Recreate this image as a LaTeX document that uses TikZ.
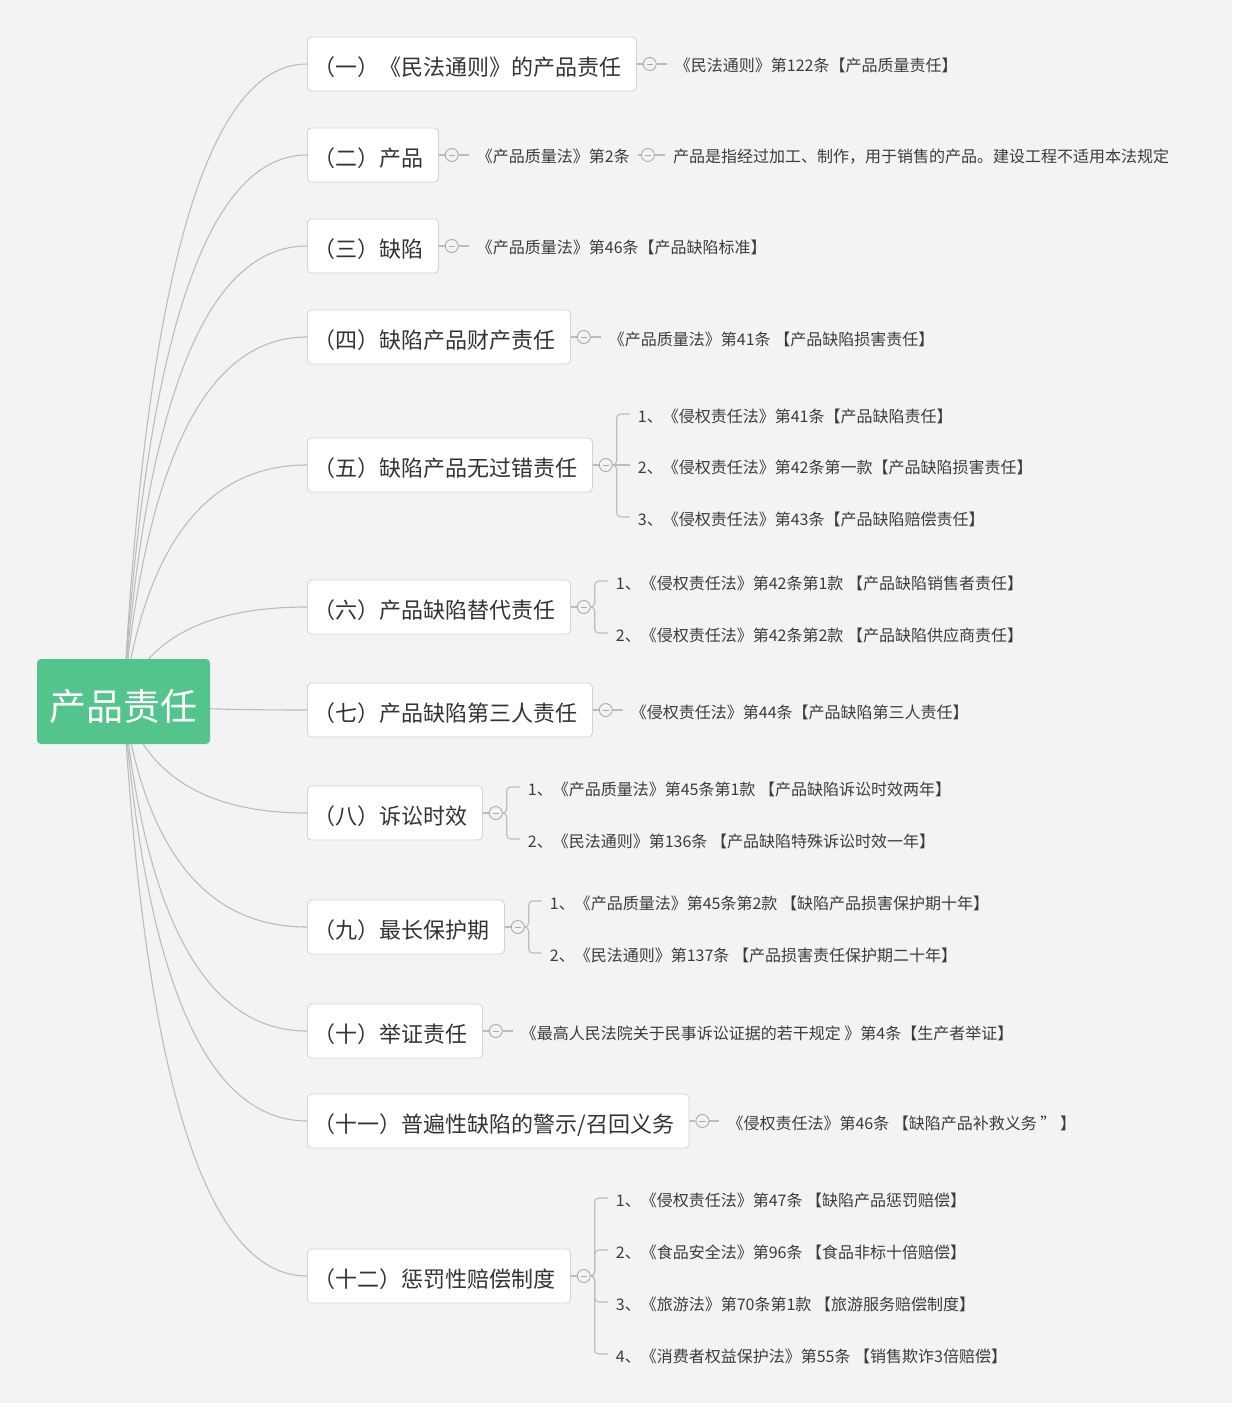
\documentclass[tikz,border=0pt]{standalone}
\usepackage{fontspec}
\setmainfont{Noto Sans CJK SC}
\usetikzlibrary{positioning,calc}
\definecolor{bgcol}{HTML}{F3F3F3}
\definecolor{rootgreen}{HTML}{52C48C}
\definecolor{boxline}{HTML}{D2D2D2}
\definecolor{wirecol}{HTML}{BCBCBC}
\definecolor{foldline}{HTML}{ABABAB}
\definecolor{darktext}{HTML}{333333}
\definecolor{leaftext}{HTML}{3C3C3C}
\pgfdeclarelayer{back}
\pgfdeclarelayer{wires}
\pgfsetlayers{back,wires,main}
\tikzset{
  topic/.style={shape=rectangle,rounded corners=4pt,draw=boxline,fill=white,thick,minimum height=54pt,inner xsep=15pt,font=\fontsize{22}{22}\selectfont,text=darktext,text height=23pt,text depth=0pt,anchor=west,execute at begin node={\kern-9pt}},
  leaf/.style={inner xsep=8pt,inner ysep=2pt,font=\fontsize{16}{16}\selectfont,text=leaftext,text height=16pt,text depth=0pt,anchor=west},
  fold/.style={shape=circle,draw=foldline,line width=0.9pt,fill=bgcol,minimum size=13pt,inner sep=0pt,
    path picture={\draw[foldline,line width=0.9pt] ([xshift=-3.2pt]path picture bounding box.center) -- ([xshift=3.2pt]path picture bounding box.center);}},
  wire/.style={draw=wirecol,line width=1.1pt}
}
\begin{document}
\begin{tikzpicture}[x=1pt,y=-1pt]
\useasboundingbox (0,0) rectangle (1240,1412);
\begin{pgfonlayer}{back}
\fill[bgcol] (0,0) rectangle (1232,1403);
\end{pgfonlayer}

\node[shape=rectangle,rounded corners=4pt,fill=rootgreen,text=white,minimum width=173pt,minimum height=85pt,text height=38.5pt,text depth=0pt,font=\fontsize{37}{37}\selectfont] (0) at (123.5,701.5) {产品责任};

\node[topic] (1) at (307,64) {（一）《民法通则》的产品责任};
\node[topic] (2) at (307,155) {（二）产品};
\node[topic] (3) at (307,246) {（三）缺陷};
\node[topic] (4) at (307,337) {（四）缺陷产品财产责任};
\node[topic] (5) at (307,465) {（五）缺陷产品无过错责任};
\node[topic] (6) at (307,607) {（六）产品缺陷替代责任};
\node[topic] (7) at (307,710) {（七）产品缺陷第三人责任};
\node[topic] (8) at (307,813) {（八）诉讼时效};
\node[topic] (9) at (307,927) {（九）最长保护期};
\node[topic] (10) at (307,1031) {（十）举证责任};
\node[topic] (11) at (307,1121) {（十一）普遍性缺陷的警示/召回义务};
\node[topic] (12) at (307,1276) {（十二）惩罚性赔偿制度};

\node[fold,right=6pt of 1] (f1) {};
\node[fold,right=6pt of 2] (f2) {};
\node[fold,right=6pt of 3] (f3) {};
\node[fold,right=6pt of 4] (f4) {};
\node[fold,right=6pt of 5] (f5) {};
\node[fold,right=6pt of 6] (f6) {};
\node[fold,right=6pt of 7] (f7) {};
\node[fold,right=6pt of 8] (f8) {};
\node[fold,right=6pt of 9] (f9) {};
\node[fold,right=6pt of 10] (f10) {};
\node[fold,right=6pt of 11] (f11) {};
\node[fold,right=6pt of 12] (f12) {};

% single leaves
\node[leaf,right=10pt of f1] (1a) {《民法通则》第122条【产品质量责任】};
\node[leaf,right=10pt of f2] (2a) {《产品质量法》第2条};
\node[fold,right=3pt of 2a] (f2a) {};
\node[leaf,right=10pt of f2a] (2b) {产品是指经过加工、制作，用于销售的产品。建设工程不适用本法规定};
\node[leaf,right=10pt of f3] (3a) {《产品质量法》第46条【产品缺陷标准】};
\node[leaf,right=10pt of f4] (4a) {《产品质量法》第41条 【产品缺陷损害责任】};
\node[leaf,right=10pt of f7] (7a) {《侵权责任法》第44条【产品缺陷第三人责任】};
\node[leaf,right=10pt of f10] (10a) {《最高人民法院关于民事诉讼证据的若干规定 》第4条【生产者举证】};
\node[leaf,right=10pt of f11] (11a) {《侵权责任法》第46条 【缺陷产品补救义务 ” 】};

% bracket leaves
\node[leaf] (5a) at ($(f5.east)+(17,-51)$) {1、《侵权责任法》第41条【产品缺陷责任】};
\node[leaf] (5b) at ($(f5.east)+(17,0)$) {2、《侵权责任法》第42条第一款【产品缺陷损害责任】};
\node[leaf] (5c) at ($(f5.east)+(17,52)$) {3、《侵权责任法》第43条【产品缺陷赔偿责任】};
\node[leaf] (6a) at ($(f6.east)+(17,-26)$) {1、《侵权责任法》第42条第1款 【产品缺陷销售者责任】};
\node[leaf] (6b) at ($(f6.east)+(17,26)$) {2、《侵权责任法》第42条第2款 【产品缺陷供应商责任】};
\node[leaf] (8a) at ($(f8.east)+(17,-26)$) {1、《产品质量法》第45条第1款 【产品缺陷诉讼时效两年】};
\node[leaf] (8b) at ($(f8.east)+(17,26)$) {2、《民法通则》第136条 【产品缺陷特殊诉讼时效一年】};
\node[leaf] (9a) at ($(f9.east)+(17,-26)$) {1、《产品质量法》第45条第2款 【缺陷产品损害保护期十年】};
\node[leaf] (9b) at ($(f9.east)+(17,26)$) {2、《民法通则》第137条 【产品损害责任保护期二十年】};
\node[leaf] (12a) at ($(f12.east)+(17,-78)$) {1、《侵权责任法》第47条 【缺陷产品惩罚赔偿】};
\node[leaf] (12b) at ($(f12.east)+(17,-26)$) {2、《食品安全法》第96条 【食品非标十倍赔偿】};
\node[leaf] (12c) at ($(f12.east)+(17,26)$) {3、《旅游法》第70条第1款 【旅游服务赔偿制度】};
\node[leaf] (12d) at ($(f12.east)+(17,78)$) {4、《消费者权益保护法》第55条 【销售欺诈3倍赔偿】};

\begin{pgfonlayer}{wires}
\path[wire] (0.center) .. controls ($(0.center)!.667!(157,64)$) and (207,64) .. (1.west);
\path[wire] (0.center) .. controls ($(0.center)!.667!(157,155)$) and (207,155) .. (2.west);
\path[wire] (0.center) .. controls ($(0.center)!.667!(157,246)$) and (207,246) .. (3.west);
\path[wire] (0.center) .. controls ($(0.center)!.667!(157,337)$) and (207,337) .. (4.west);
\path[wire] (0.center) .. controls ($(0.center)!.667!(157,465)$) and (207,465) .. (5.west);
\path[wire] (0.center) .. controls ($(0.center)!.667!(157,607)$) and (207,607) .. (6.west);
\path[wire] (0.center) .. controls ($(0.center)!.667!(157,710)$) and (207,710) .. (7.west);
\path[wire] (0.center) .. controls ($(0.center)!.667!(157,813)$) and (207,813) .. (8.west);
\path[wire] (0.center) .. controls ($(0.center)!.667!(157,927)$) and (207,927) .. (9.west);
\path[wire] (0.center) .. controls ($(0.center)!.667!(157,1031)$) and (207,1031) .. (10.west);
\path[wire] (0.center) .. controls ($(0.center)!.667!(157,1121)$) and (207,1121) .. (11.west);
\path[wire] (0.center) .. controls ($(0.center)!.667!(157,1276)$) and (207,1276) .. (12.west);

\path [wire] (1) edge (f1) (2) edge (f2) (3) edge (f3) (4) edge (f4);
\path [wire] (5) edge (f5) (6) edge (f6) (7) edge (f7) (8) edge (f8);
\path [wire] (9) edge (f9) (10) edge (f10) (11) edge (f11) (12) edge (f12);
\path [wire] (2a) edge (f2a);

\path [wire] (f1) edge (1a);
\path [wire] (f2) edge (2a);
\path [wire] (f2a) edge (2b);
\path [wire] (f3) edge (3a);
\path [wire] (f4) edge (4a);
\path [wire] (f7) edge (7a);
\path [wire] (f10) edge (10a);
\path [wire] (f11) edge (11a);

\path [wire,rounded corners=4pt] (f5.east) -- ++(4,0) |- (5a.west);
\path [wire] (f5) edge (5b);
\path [wire,rounded corners=4pt] (f5.east) -- ++(4,0) |- (5c.west);
\path [wire,rounded corners=4pt] (f6.east) -- ++(4,0) |- (6a.west);
\path [wire,rounded corners=4pt] (f6.east) -- ++(4,0) |- (6b.west);
\path [wire,rounded corners=4pt] (f8.east) -- ++(4,0) |- (8a.west);
\path [wire,rounded corners=4pt] (f8.east) -- ++(4,0) |- (8b.west);
\path [wire,rounded corners=4pt] (f9.east) -- ++(4,0) |- (9a.west);
\path [wire,rounded corners=4pt] (f9.east) -- ++(4,0) |- (9b.west);
\path [wire,rounded corners=4pt] (f12.east) -- ++(4,0) |- (12a.west);
\path [wire,rounded corners=4pt] (f12.east) -- ++(4,0) |- (12b.west);
\path [wire,rounded corners=4pt] (f12.east) -- ++(4,0) |- (12c.west);
\path [wire,rounded corners=4pt] (f12.east) -- ++(4,0) |- (12d.west);
\end{pgfonlayer}
\end{tikzpicture}
\end{document}
